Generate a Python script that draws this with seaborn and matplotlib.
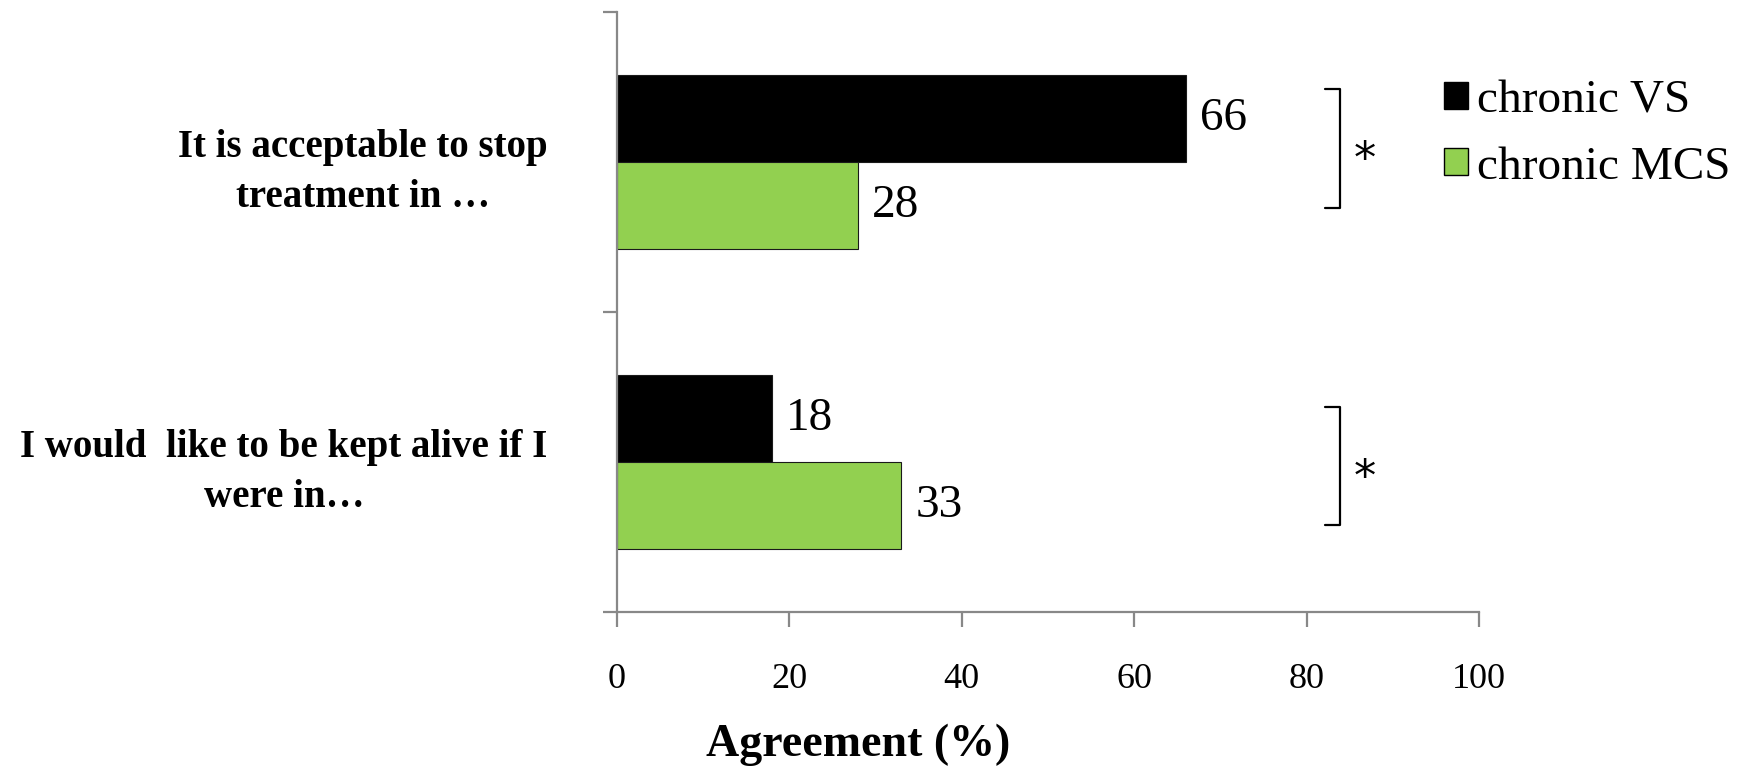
import matplotlib
matplotlib.use("Agg")
import matplotlib.pyplot as plt
import seaborn as sns
import pandas as pd

# Survey statements (y categories) and response groups
statements = [
    "It is acceptable to stop\ntreatment in \u2026",
    "I would  like to be kept alive if I\nwere in\u2026",
]
groups = ["chronic VS", "chronic MCS"]
vs_values = [66, 18]
mcs_values = [28, 33]
x_ticks = [0, 20, 40, 60, 80, 100]
colors = ["#000000", "#92D050"]

df = pd.DataFrame({
    "statement": statements * 2,
    "group": [groups[0]] * len(statements) + [groups[1]] * len(statements),
    "agreement": vs_values + mcs_values,
})

sns.set_theme(style="white")
plt.rcParams["font.family"] = ["Liberation Serif", "DejaVu Sans"]
plt.rcParams["text.color"] = "black"
plt.rcParams["xtick.labelcolor"] = "black"
plt.rcParams["ytick.labelcolor"] = "black"

fig = plt.figure(figsize=(17.5, 7.75), dpi=100)
ax = fig.add_axes([617 / 1750, 1 - 612 / 775, 862 / 1750, 600 / 775])

sns.barplot(
    data=df, x="agreement", y="statement", hue="group",
    hue_order=groups, order=statements, palette=colors,
    orient="h", width=0.58, gap=0, edgecolor="#1a1a1a", linewidth=0.8,
    saturation=1, ax=ax,
)

# value labels at the bar ends
for cont in ax.containers:
    ax.bar_label(cont, fmt="%d", padding=10, fontsize=34, color="black")

# axes styling
ax.set_xlim(0, 100)
ax.set_ylim(1.5, -0.5)
ax.set_xticks(x_ticks)
ax.set_xticklabels([str(t) for t in x_ticks], fontsize=26, color="black")
ax.tick_params(axis="x", direction="out", length=11, width=1.6,
               color="#888888", pad=26, bottom=True)
ax.set_yticks([0, 1])
ax.set_yticklabels(statements, fontsize=28, fontweight="bold", color="black")
for lbl in ax.get_yticklabels():
    lbl.set_multialignment("center")
    lbl.set_linespacing(1.45)
ax.tick_params(axis="y", which="major", length=0, pad=50)
ax.set_yticks([-0.5, 0.5, 1.5], minor=True)
ax.tick_params(axis="y", which="minor", direction="out", length=10,
               width=1.6, color="#888888", left=True)

for side in ["top", "right"]:
    ax.spines[side].set_visible(False)
for side in ["left", "bottom"]:
    ax.spines[side].set_color("#888888")
    ax.spines[side].set_linewidth(1.6)

ax.set_ylabel("")
ax.set_xlabel("")
fig.text(858 / 1750, 1 - 745 / 775, "Agreement (%)", fontsize=33,
         fontweight="bold", ha="center", va="center", color="black")

# significance brackets
brackets = [(-0.243, 0.153), (0.817, 1.21)]
for y0, y1 in brackets:
    ax.plot([82.1, 83.9, 83.9, 82.1], [y0, y0, y1, y1], color="black",
            lw=1.6, clip_on=False, solid_joinstyle="round")
    ax.text(86.8, (y0 + y1) / 2 + 0.04, "*", fontsize=32,
            family="DejaVu Sans", ha="center", va="center", clip_on=False)

# legend
handles, labels = ax.get_legend_handles_labels()
ax.get_legend().remove()
for h in handles:
    h.set_edgecolor("black")
    h.set_linewidth(1.0)
fig.legend(handles, labels, loc="upper left",
           bbox_to_anchor=(1444 / 1750, 1 - 80 / 775), frameon=False,
           fontsize=34, handlelength=0.5, handleheight=0.5,
           handletextpad=0.2, labelspacing=0.5, borderpad=0,
           borderaxespad=0)

fig.savefig("out.png", dpi=100, facecolor="white")
